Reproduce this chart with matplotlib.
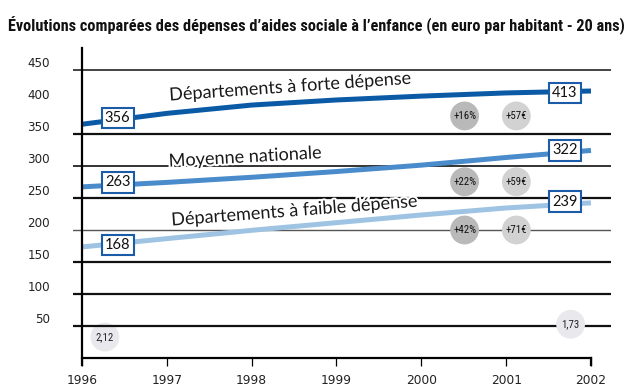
import matplotlib
matplotlib.use('Agg')
import matplotlib.pyplot as plt
import matplotlib.patheffects as pe
from matplotlib import font_manager
import numpy as np

# ---------------- data ----------------
years = [1996, 1997, 1998, 1999, 2000, 2001, 2002]
forte = [365, 382, 395, 403, 409, 414, 417]
moyenne = [267, 274, 282, 291, 301, 313, 324]
faible = [173, 186, 199, 211, 223, 234, 242]
series_names = ['Départements à forte dépense', 'Moyenne nationale',
                'Départements à faible dépense']
start_labels = ['356', '263', '168']
end_labels = ['413', '322', '239']
pct_labels = ['+16%', '+22%', '+42%']
eur_labels = ['+57€', '+59€', '+71€']
ratio_labels = ['2,12', '1,73']
yticks = [50, 100, 150, 200, 250, 300, 350, 400, 450]
gridlines = [450, 350, 300, 250, 200, 150, 100, 50]
title = "Évolutions comparées des dépenses d’aides sociale à l’enfance (en euro par habitant - 20 ans)"

# ---------------- styling / layout ----------------
W, H = 632, 391
names = {f.name for f in font_manager.fontManager.ttflist}
narrow = [f for f in ['Roboto Condensed', 'Liberation Sans Narrow', 'Roboto', 'DejaVu Sans']
          if f in names][0]
colors = ['#0a5aa6', '#4a8ccb', '#9fc4e3']
box_edge = '#1b5ca8'
grid_style = {450: (1.1, '#111111'), 350: (1.6, '#111111'), 300: (1.2, '#111111'),
              250: (1.6, '#111111'), 200: (1.0, '#555555'), 150: (1.6, '#111111'),
              100: (1.6, '#111111'), 50: (1.6, '#111111')}
start_pos = [(1996.42, 375), (1996.42, 274), (1996.42, 176)]
end_pos = [(2001.69, 414), (2001.69, 324), (2001.69, 244)]
circle_y = [378, 275, 199.5]
pct_x, eur_x = 2000.51, 2001.12
ratio_pos = [(1996.27, 32), (2001.76, 52)]
name_pos = [(1998.45, 423, 4.0), (1997.92, 313, 3.2), (1998.50, 229, 4.4)]

fig = plt.figure(figsize=(W / 100, H / 100), dpi=100)
ax = fig.add_axes([73 / W, 1 - 357.5 / H, (611 - 73) / W, (357.5 - 48) / H])
ax.set_xlim(1995.894, 2002.236)
ax.set_ylim(0, 484.3)
for s in ['top', 'right', 'left']:
    ax.spines[s].set_visible(False)
ax.spines['bottom'].set_bounds(1996, 2002)
ax.spines['bottom'].set_linewidth(1.6)
ax.set_xticks(years)
ax.set_xticklabels([str(y) for y in years], fontsize=8.8, color='#222222',
                   family='DejaVu Sans')
ax.tick_params(axis='x', direction='out', length=5.8, width=0.9, pad=6)
ax.set_yticks(yticks)
ax.set_yticklabels([str(v) for v in yticks], fontsize=8.6, color='#222222',
                   family='DejaVu Sans', va='bottom')
ax.tick_params(axis='y', length=0, pad=16.5)
ax.set_facecolor('white')

# vertical axis at 1996
ax.plot([1996, 1996], [-12, 484.3], color='black', lw=1.6, clip_on=False, zorder=5)
# thicker 2002 tick
ax.plot([2002, 2002], [0, -12], color='black', lw=1.6, clip_on=False, zorder=5)

# gridlines
for g in gridlines:
    lw, c = grid_style[g]
    ax.axhline(g, color=c, lw=lw, zorder=2)

# ratio circles
ax.scatter([ratio_pos[0][0]], [ratio_pos[0][1]], s=430, color='#e9e9ed', zorder=1,
           edgecolors='none')
ax.scatter([ratio_pos[1][0]], [ratio_pos[1][1]], s=430, color='#e9e9ed', zorder=6,
           edgecolors='none')
for (x, y), t in zip(ratio_pos, ratio_labels):
    ax.text(x, y, t, ha='center', va='center', fontsize=7.8, zorder=7,
            family=narrow, color='#222222')

# series lines
for vals, c in zip([forte, moyenne, faible], colors):
    ax.plot(years, vals, color=c, lw=3.6, solid_capstyle='butt', zorder=4)

# series names
for (x, y, r), t in zip(name_pos, series_names):
    txt = ax.text(x, y, t, ha='center', va='center', rotation=r, fontsize=13,
                  family='Lato', color='#1a1a1a', zorder=5,
                  rotation_mode='anchor')
    txt.set_path_effects([pe.withStroke(linewidth=3, foreground='white')])

# value boxes
for (x, y), t in zip(start_pos + end_pos, start_labels + end_labels):
    ax.text(x, y, t, ha='center', va='center', fontsize=10.5, family='Lato',
            color='#111111', zorder=8,
            bbox=dict(boxstyle='square,pad=0.22', facecolor='white',
                      edgecolor=box_edge, lw=1.5))

# percentage / euro circles
ax.scatter([pct_x] * 3, circle_y, s=430, color='#b9b9b9', zorder=6, edgecolors='none')
ax.scatter([eur_x] * 3, circle_y, s=430, color='#d2d2d2', zorder=6, edgecolors='none')
for y, p, e in zip(circle_y, pct_labels, eur_labels):
    ax.text(pct_x, y, p, ha='center', va='center', fontsize=7.8, zorder=7,
            family=narrow, color='#111111')
    ax.text(eur_x, y, e, ha='center', va='center', fontsize=7.8, zorder=7,
            family=narrow, color='#111111')

# title fitted to width
t = fig.text(8 / W, 1 - 26 / H, title, ha='left', va='center', fontsize=10,
             fontweight='bold', family=[narrow, 'DejaVu Sans'],
             color='#111111')
fig.canvas.draw()
bb = t.get_window_extent()
t.set_fontsize(10 * (615 / bb.width))

fig.savefig('out.png', dpi=100, facecolor='white')
